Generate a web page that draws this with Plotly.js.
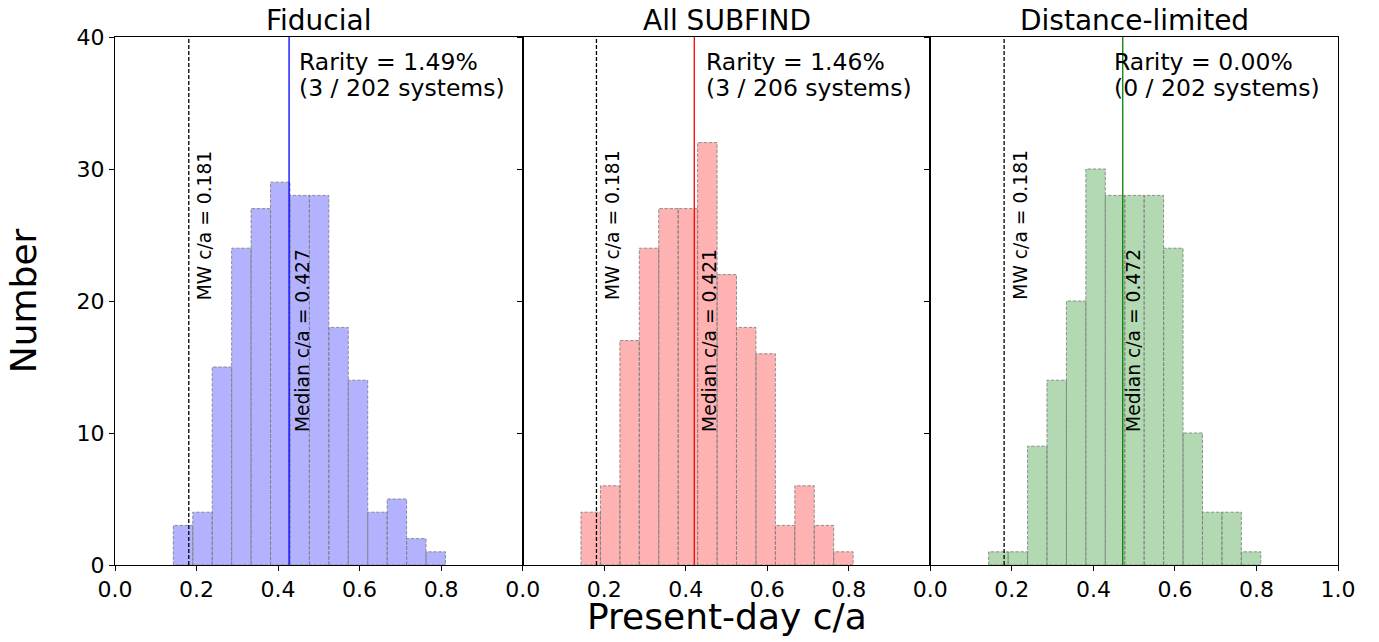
<!DOCTYPE html>
<html><head><meta charset="utf-8">
<script src="https://cdn.plot.ly/plotly-3.0.1.min.js"></script>
<style>body{margin:0;background:#fff}#chart{width:1379px;height:642px}</style>
</head><body><div id="chart"></div>
<script>
// ---- data ----
const panelTitles = ["Fiducial", "All SUBFIND", "Distance-limited"];
const binEdges = [0.1431, 0.1908, 0.2385, 0.2861, 0.3338, 0.3815, 0.4292, 0.4769,
                  0.5245, 0.5722, 0.6199, 0.6676, 0.7153, 0.7629, 0.8106];
const countsFiducial  = [3, 4, 15, 24, 27, 29, 28, 28, 18, 14, 4, 5, 2, 1];
const countsAllSubfind = [4, 6, 17, 24, 27, 27, 32, 22, 18, 16, 3, 6, 3, 1];
const countsDistance  = [1, 1, 9, 14, 20, 30, 28, 28, 28, 24, 10, 4, 4, 1];
const medians = [0.427, 0.421, 0.472];
const mwValue = 0.181;
const rarityPct = ["1.49%", "1.46%", "0.00%"];
const rarityCounts = ["3 / 202", "3 / 206", "0 / 202"];
const xTickVals = [0, 0.2, 0.4, 0.6, 0.8, 1.0];
const yTickVals = [0, 10, 20, 30, 40];

// ---- styles ----
const allCounts = [countsFiducial, countsAllSubfind, countsDistance];
const fills = ['rgba(0,0,255,0.3)', 'rgba(255,0,0,0.3)', 'rgba(0,128,0,0.3)'];
const lineColors = ['#0000ff', '#ff0000', '#008000'];
const medianLabelX = [0.432, 0.430, 0.470];
const FONT = 'DejaVu Sans, sans-serif';

const traces = [];
const shapes = [];
const annotations = [];
const axSuffix = ['', '2', '3'];

allCounts.forEach((counts, p) => {
  const xa = 'x' + axSuffix[p], ya = 'y' + axSuffix[p];
  const centers = [], widths = [];
  const ox = [], oy = [];
  for (let i = 0; i < counts.length; i++) {
    const a = binEdges[i], b = binEdges[i + 1];
    centers.push((a + b) / 2); widths.push(b - a);
    ox.push(a, a, b, b, a, null); oy.push(0, counts[i], counts[i], 0, 0, null);
  }
  traces.push({type: 'bar', x: centers, y: counts, width: widths, xaxis: xa, yaxis: ya,
    marker: {color: fills[p], line: {width: 0}}, hoverinfo: 'x+y', showlegend: false});
  traces.push({type: 'scatter', mode: 'lines', x: ox, y: oy, xaxis: xa, yaxis: ya,
    line: {color: 'rgba(128,128,128,0.85)', width: 1, dash: '3.5px,1.6px'},
    hoverinfo: 'skip', showlegend: false, connectgaps: false});

  // MW line and median line
  shapes.push({type: 'line', xref: xa, yref: ya + ' domain', x0: mwValue, x1: mwValue, y0: 0, y1: 1,
    line: {color: 'black', width: 1.3, dash: '4px,2px'}});
  shapes.push({type: 'line', xref: xa, yref: ya + ' domain', x0: medians[p], x1: medians[p], y0: 0, y1: 1,
    line: {color: lineColors[p], width: 1.3}});

  const tf = {family: FONT, size: 18.7, color: 'black'};
  annotations.push({xref: xa, yref: ya, x: 0.191, y: 20, xanchor: 'left', yanchor: 'bottom',
    text: 'MW c/a = ' + mwValue.toFixed(3), textangle: -90, showarrow: false, font: tf,
    borderpad: 0});
  annotations.push({xref: xa, yref: ya, x: medianLabelX[p], y: 10, xanchor: 'left', yanchor: 'bottom',
    text: 'Median c/a = ' + medians[p].toFixed(3), textangle: -90, showarrow: false, font: tf,
    borderpad: 0});
  const rf = {family: FONT, size: 23.5, color: 'black'};
  annotations.push({xref: xa, yref: ya, x: 0.448, y: 38.1, xanchor: 'left', yanchor: 'middle',
    text: 'Rarity = ' + rarityPct[p], showarrow: false, font: rf, borderpad: 0});
  annotations.push({xref: xa, yref: ya, x: 0.448, y: 36.1, xanchor: 'left', yanchor: 'middle',
    text: '(' + rarityCounts[p] + ' systems)', showarrow: false, font: rf, borderpad: 0});
  // panel title
  annotations.push({xref: 'paper', yref: 'paper', x: (2 * p + 1) / 6, y: 1.032,
    xanchor: 'center', yanchor: 'middle', text: panelTitles[p], showarrow: false,
    font: {family: FONT, size: 28, color: 'black'}});
});

annotations.push({xref: 'paper', yref: 'paper', x: -0.075, y: 0.5, xanchor: 'center', yanchor: 'middle',
  text: 'Number', textangle: -90, showarrow: false, font: {family: FONT, size: 36, color: 'black'}});
annotations.push({xref: 'paper', yref: 'paper', x: 0.5, y: -0.097, xanchor: 'center', yanchor: 'middle',
  text: 'Present-day c/a', showarrow: false, font: {family: FONT, size: 36, color: 'black'}});

function xAxis(domain, anchor, vals) {
  return {domain: domain, anchor: anchor, range: [0, 1], tickvals: vals,
    ticktext: vals.map(v => v.toFixed(1)), ticks: 'outside', ticklen: 5, tickwidth: 1,
    tickcolor: 'black', showline: true, mirror: true, linecolor: 'black', linewidth: 1,
    showgrid: false, zeroline: false, tickfont: {family: FONT, size: 22, color: 'black'}, fixedrange: true};
}
function yAxis(anchor, labels) {
  const o = {anchor: anchor, range: [0, 40], tickvals: yTickVals, ticks: 'outside', ticklen: 5,
    tickwidth: 1, tickcolor: 'black', showline: true, mirror: true, linecolor: 'black', linewidth: 1,
    showgrid: false, zeroline: false, showticklabels: labels,
    tickfont: {family: FONT, size: 22, color: 'black'}, fixedrange: true};
  return o;
}

const layout = {
  width: 1379, height: 642,
  margin: {l: 115, r: 41, t: 37, b: 77},
  paper_bgcolor: 'white', plot_bgcolor: 'white',
  barmode: 'overlay', showlegend: false,
  xaxis: xAxis([0, 1/3], 'y', xTickVals.slice(0, 5)),
  xaxis2: xAxis([1/3, 2/3], 'y2', xTickVals.slice(0, 5)),
  xaxis3: xAxis([2/3, 1], 'y3', xTickVals),
  yaxis: yAxis('x', true),
  yaxis2: Object.assign(yAxis('x2', false), {matches: 'y'}),
  yaxis3: Object.assign(yAxis('x3', false), {matches: 'y'}),
  shapes: shapes, annotations: annotations,
  font: {family: FONT}
};

Plotly.newPlot('chart', traces, layout, {displayModeBar: false, staticPlot: true});
</script>
</body></html>
